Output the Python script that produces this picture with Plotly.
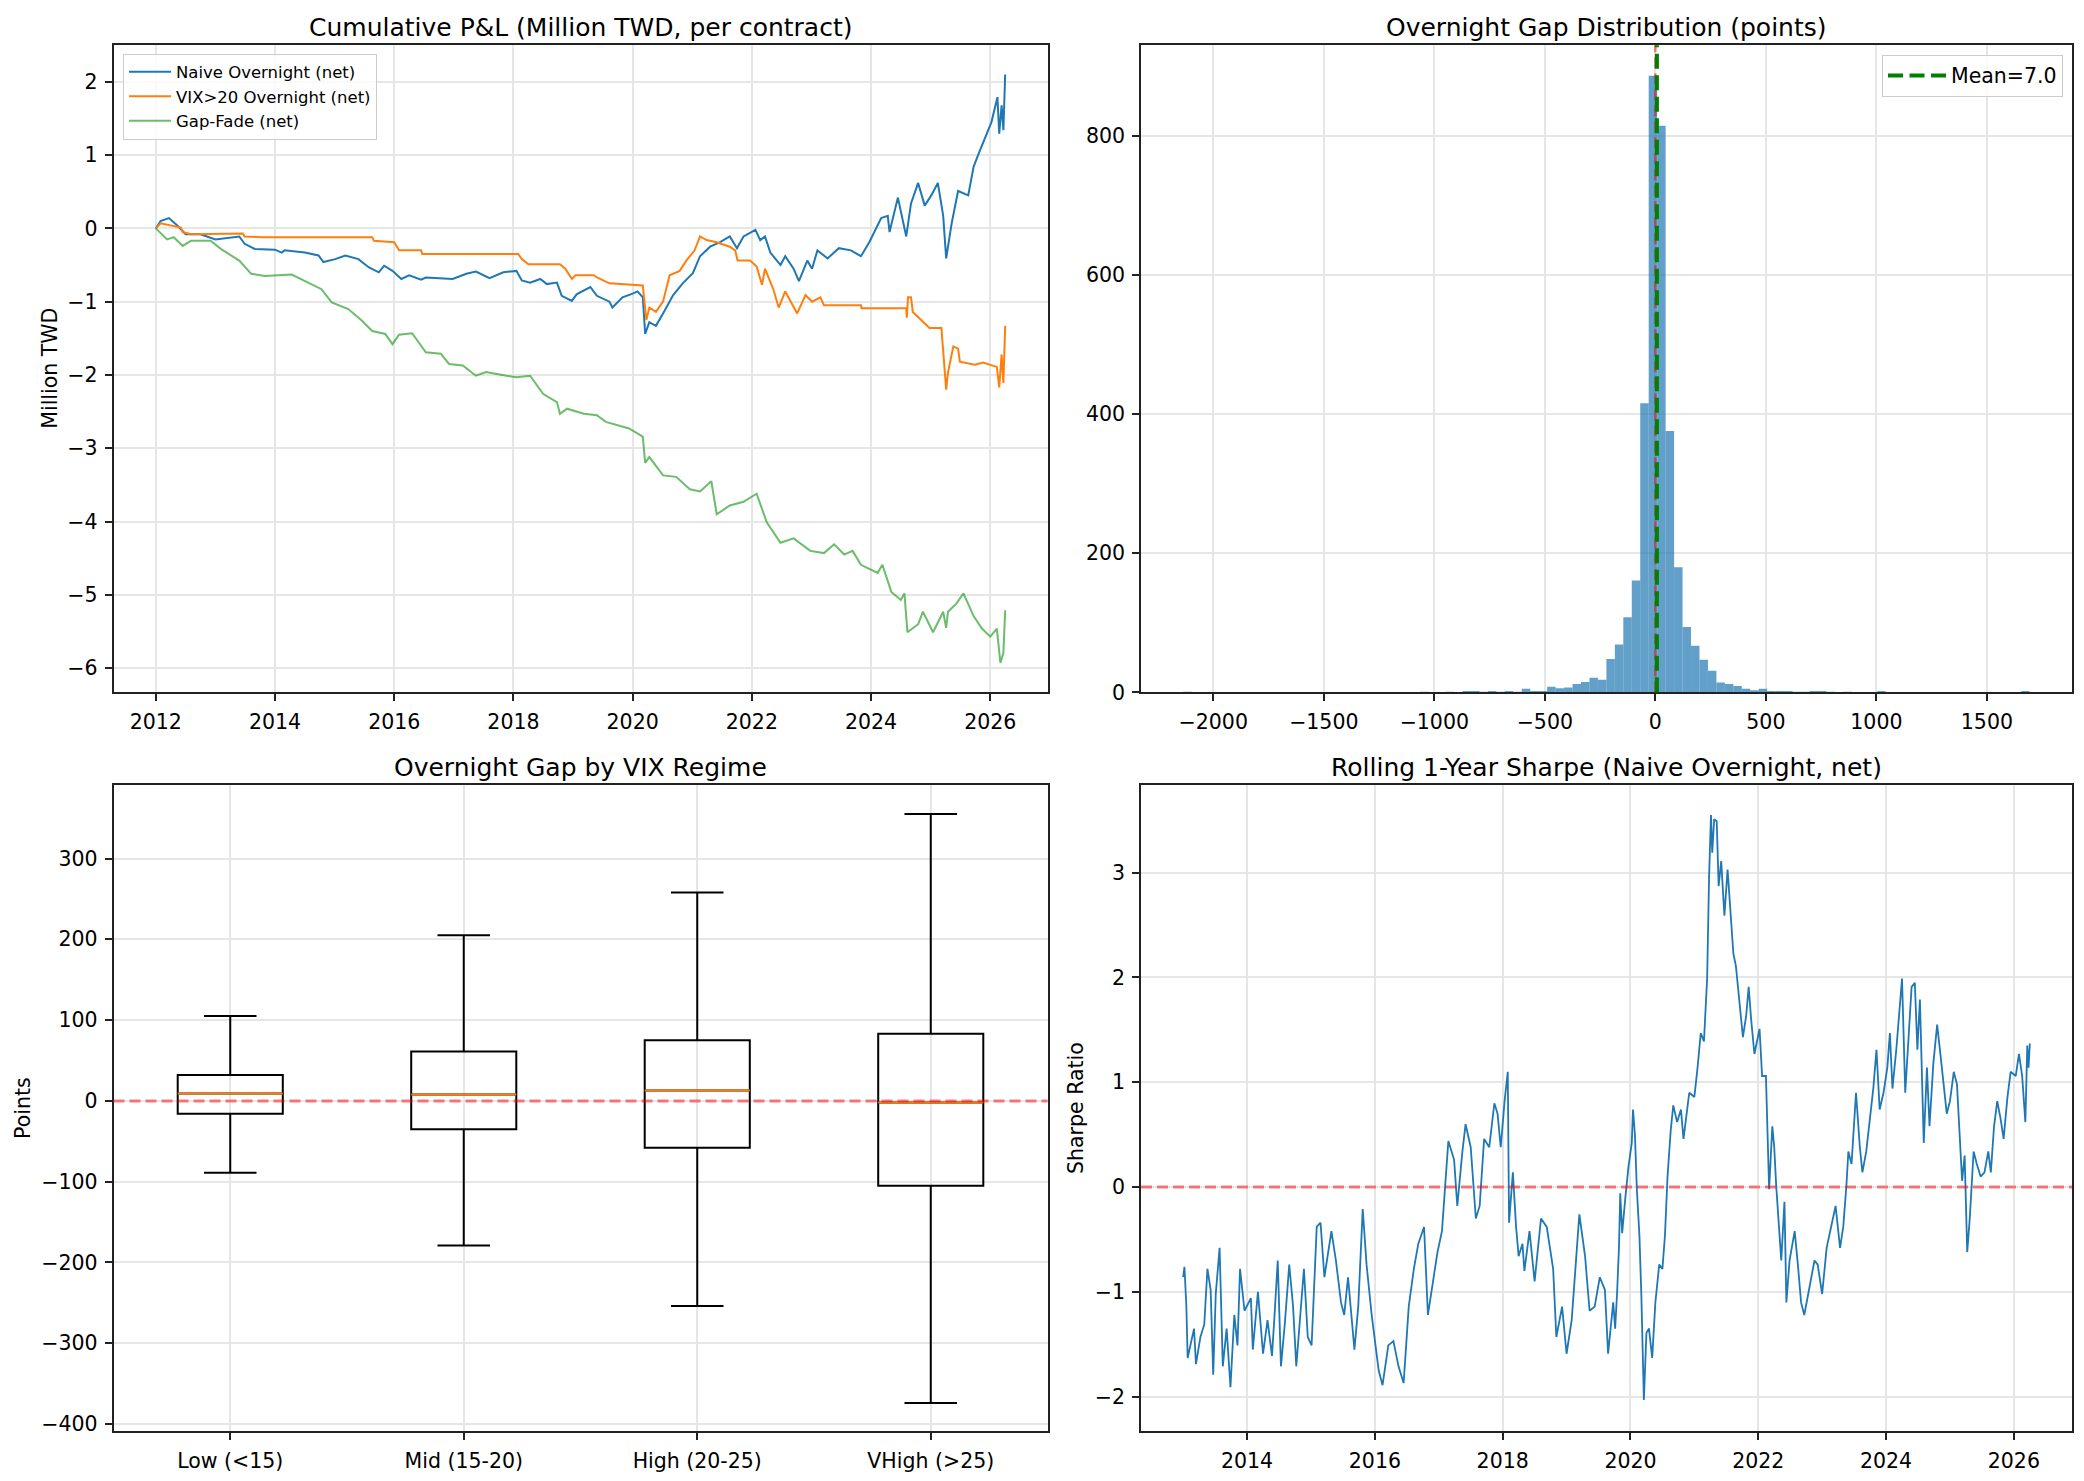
import numpy as np
import plotly.graph_objects as go

# ---------------- data ----------------
# Panel 1: cumulative P&L (million TWD)
naive_t = [2012.00, 2012.08, 2012.22, 2012.36, 2012.50, 2012.75, 2013.00, 2013.21, 2013.40, 2013.49, 2013.66,
           2014.00, 2014.11, 2014.16, 2014.50, 2014.73, 2014.81, 2015.01, 2015.18, 2015.40, 2015.57, 2015.74,
           2015.83, 2015.97, 2016.12, 2016.25, 2016.45, 2016.53, 2016.87, 2016.98, 2017.21, 2017.37, 2017.60,
           2017.83, 2018.05, 2018.14, 2018.28, 2018.45, 2018.56, 2018.73, 2018.81, 2018.98, 2019.06, 2019.29,
           2019.40, 2019.61, 2019.66, 2019.83, 2020.00, 2020.08, 2020.17, 2020.21, 2020.28, 2020.39, 2020.51,
           2020.68, 2020.84, 2021.01, 2021.13, 2021.30, 2021.46, 2021.63, 2021.75, 2021.86, 2022.06, 2022.14,
           2022.22, 2022.31, 2022.48, 2022.56, 2022.70, 2022.79, 2022.93, 2023.01, 2023.10, 2023.27, 2023.46,
           2023.66, 2023.83, 2023.97, 2024.17, 2024.28, 2024.31, 2024.45, 2024.59, 2024.67, 2024.79, 2024.90,
           2025.01, 2025.12, 2025.21, 2025.26, 2025.35, 2025.46, 2025.63, 2025.72, 2025.80, 2025.94, 2026.02,
           2026.12, 2026.15, 2026.19, 2026.22, 2026.25]
naive_v = [0.00, 0.10, 0.14, 0.04, -0.08, -0.08, -0.15, -0.13, -0.11, -0.21, -0.28,
           -0.29, -0.33, -0.30, -0.33, -0.37, -0.46, -0.42, -0.37, -0.42, -0.53, -0.60,
           -0.51, -0.58, -0.69, -0.64, -0.70, -0.67, -0.68, -0.69, -0.62, -0.59, -0.68,
           -0.60, -0.58, -0.71, -0.74, -0.69, -0.76, -0.74, -0.92, -0.99, -0.90, -0.80,
           -0.92, -1.00, -1.08, -0.94, -0.89, -0.86, -0.94, -1.44, -1.28, -1.33, -1.16,
           -0.91, -0.75, -0.61, -0.38, -0.25, -0.19, -0.11, -0.27, -0.11, -0.02, -0.16,
           -0.11, -0.33, -0.50, -0.38, -0.55, -0.72, -0.44, -0.55, -0.30, -0.41, -0.27,
           -0.30, -0.38, -0.19, 0.14, 0.17, -0.05, 0.42, -0.11, 0.34, 0.62, 0.31,
           0.45, 0.62, 0.17, -0.41, 0.06, 0.51, 0.45, 0.84, 1.01, 1.29, 1.45,
           1.79, 1.29, 1.68, 1.34, 2.10]

vix_t = [2012.00, 2012.08, 2012.42, 2012.45, 2012.59, 2013.46, 2013.49, 2013.77, 2015.63, 2015.66, 2016.00,
         2016.08, 2016.45, 2016.47, 2018.08, 2018.14, 2018.25, 2018.78, 2018.87, 2018.98, 2019.04, 2019.35,
         2019.40, 2019.61, 2020.17, 2020.20, 2020.23, 2020.28, 2020.39, 2020.51, 2020.62, 2020.79, 2020.90,
         2021.04, 2021.13, 2021.24, 2021.41, 2021.63, 2021.72, 2021.76, 2021.97, 2022.08, 2022.17, 2022.22,
         2022.36, 2022.45, 2022.56, 2022.76, 2022.90, 2023.01, 2023.15, 2023.21, 2023.83, 2023.84, 2024.59,
         2024.60, 2024.62, 2024.67, 2024.70, 2024.84, 2024.98, 2025.18, 2025.21, 2025.26, 2025.29, 2025.38,
         2025.46, 2025.49, 2025.74, 2025.88, 2026.11, 2026.15, 2026.19, 2026.22, 2026.25]
vix_v = [0.00, 0.07, 0.01, -0.05, -0.08, -0.07, -0.11, -0.12, -0.12, -0.17, -0.19,
         -0.30, -0.30, -0.35, -0.35, -0.42, -0.49, -0.49, -0.55, -0.69, -0.64, -0.64,
         -0.67, -0.75, -0.78, -1.05, -1.25, -1.08, -1.14, -1.00, -0.64, -0.58, -0.44,
         -0.30, -0.11, -0.16, -0.19, -0.25, -0.30, -0.44, -0.44, -0.52, -0.77, -0.55,
         -0.83, -1.08, -0.86, -1.16, -0.91, -1.00, -0.94, -1.05, -1.05, -1.09, -1.09,
         -1.22, -0.94, -0.94, -1.14, -1.25, -1.36, -1.36, -1.67, -2.20, -1.97, -1.61,
         -1.64, -1.82, -1.86, -1.83, -1.89, -2.17, -1.72, -2.11, -1.33]

fade_t = [2012.00, 2012.19, 2012.30, 2012.45, 2012.59, 2012.92, 2013.09, 2013.40, 2013.60, 2013.83, 2014.28,
          2014.56, 2014.78, 2014.95, 2015.23, 2015.46, 2015.63, 2015.85, 2015.97, 2016.08, 2016.30, 2016.53,
          2016.78, 2016.92, 2017.15, 2017.37, 2017.54, 2017.88, 2018.05, 2018.28, 2018.50, 2018.73, 2018.78,
          2018.90, 2019.18, 2019.40, 2019.55, 2019.94, 2020.17, 2020.21, 2020.28, 2020.51, 2020.73, 2020.96,
          2021.13, 2021.32, 2021.41, 2021.63, 2021.86, 2022.08, 2022.25, 2022.48, 2022.70, 2022.98, 2023.21,
          2023.38, 2023.55, 2023.69, 2023.83, 2024.11, 2024.19, 2024.34, 2024.50, 2024.56, 2024.61, 2024.79,
          2024.87, 2025.04, 2025.21, 2025.26, 2025.29, 2025.43, 2025.55, 2025.72, 2025.86, 2026.00, 2026.11,
          2026.17, 2026.22, 2026.25]
fade_v = [0.00, -0.15, -0.12, -0.24, -0.17, -0.17, -0.28, -0.44, -0.62, -0.65, -0.63,
          -0.74, -0.83, -1.01, -1.10, -1.26, -1.40, -1.44, -1.58, -1.45, -1.43, -1.69,
          -1.71, -1.85, -1.87, -2.01, -1.96, -2.01, -2.03, -2.01, -2.26, -2.37, -2.53,
          -2.46, -2.53, -2.55, -2.64, -2.73, -2.84, -3.20, -3.12, -3.37, -3.39, -3.56,
          -3.59, -3.45, -3.90, -3.78, -3.73, -3.62, -4.01, -4.29, -4.23, -4.40, -4.43,
          -4.31, -4.45, -4.40, -4.59, -4.70, -4.59, -4.96, -5.07, -4.98, -5.51, -5.40,
          -5.23, -5.51, -5.23, -5.45, -5.23, -5.12, -4.98, -5.29, -5.46, -5.57, -5.46,
          -5.93, -5.79, -5.21]

year_ticks = [2012, 2014, 2016, 2018, 2020, 2022, 2024, 2026]

# Panel 2: overnight gap histogram (100 bins between min and max gap)
gap_min, gap_max = -2136.0, 1693.0
gap_mean = 7.0
gap_counts = [1, 0, 0, 0, 0, 0, 0, 0, 0, 0,
              0, 0, 0, 0, 0, 0, 0, 0, 0, 0,
              0, 0, 0, 0, 0, 0, 0, 0, 1, 0,
              0, 1, 0, 2, 2, 1, 2, 1, 2, 1,
              5, 2, 2, 8, 6, 7, 12, 15, 21, 18,
              48, 69, 108, 161, 416, 887, 815, 376, 180, 94,
              67, 47, 31, 14, 12, 9, 5, 3, 5, 2,
              2, 2, 1, 1, 2, 2, 1, 0, 1, 0,
              0, 0, 2, 0, 0, 0, 0, 0, 0, 0,
              0, 0, 0, 0, 0, 0, 0, 0, 0, 2]

# Panel 3: overnight gap by VIX regime (box stats, points)
regimes = ["Low (<15)", "Mid (15-20)", "High (20-25)", "VHigh (>25)"]
box_lower = [-89, -179, -254, -374]
box_q1 = [-16, -35, -58, -105]
box_median = [9, 8, 13, -2]
box_q3 = [32, 61, 75, 83]
box_upper = [105, 205, 258, 355]

# Panel 4: rolling 1-year Sharpe (naive overnight, net)
sharpe_t = [2013.00, 2013.02, 2013.05, 2013.07, 2013.17, 2013.20, 2013.27, 2013.33, 2013.38, 2013.43, 2013.47,
            2013.51, 2013.57, 2013.62, 2013.68, 2013.74, 2013.80, 2013.85, 2013.89, 2013.96, 2014.06, 2014.09,
            2014.17, 2014.25, 2014.32, 2014.39, 2014.43, 2014.48, 2014.53, 2014.59, 2014.66, 2014.72, 2014.77,
            2014.89, 2014.95, 2015.01, 2015.09, 2015.15, 2015.21, 2015.32, 2015.39, 2015.47, 2015.52, 2015.58,
            2015.68, 2015.74, 2015.81, 2015.87, 2015.95, 2016.06, 2016.12, 2016.21, 2016.29, 2016.37, 2016.45,
            2016.53, 2016.61, 2016.68, 2016.77, 2016.83, 2016.90, 2016.98, 2017.05, 2017.11, 2017.15, 2017.24,
            2017.29, 2017.37, 2017.42, 2017.50, 2017.58, 2017.64, 2017.71, 2017.79, 2017.87, 2017.92, 2017.97,
            2018.03, 2018.08, 2018.10, 2018.16, 2018.21, 2018.25, 2018.31, 2018.34, 2018.42, 2018.50, 2018.60,
            2018.69, 2018.79, 2018.84, 2018.93, 2019.00, 2019.08, 2019.15, 2019.20, 2019.29, 2019.36, 2019.44,
            2019.52, 2019.60, 2019.65, 2019.73, 2019.76, 2019.79, 2019.82, 2019.84, 2019.87, 2019.92, 2019.97,
            2020.02, 2020.04, 2020.07, 2020.10, 2020.14, 2020.17, 2020.21, 2020.25, 2020.29, 2020.34, 2020.39,
            2020.45, 2020.50, 2020.54, 2020.58, 2020.63, 2020.67, 2020.73, 2020.79, 2020.83, 2020.92, 2021.00,
            2021.05, 2021.10, 2021.15, 2021.20, 2021.23, 2021.26, 2021.28, 2021.31, 2021.35, 2021.38, 2021.42,
            2021.47, 2021.52, 2021.57, 2021.61, 2021.65, 2021.70, 2021.76, 2021.81, 2021.85, 2021.89, 2021.94,
            2022.02, 2022.06, 2022.12, 2022.15, 2022.17, 2022.22, 2022.25, 2022.28, 2022.33, 2022.36, 2022.41,
            2022.44, 2022.49, 2022.57, 2022.62, 2022.67, 2022.72, 2022.80, 2022.88, 2022.93, 2023.00, 2023.07,
            2023.14, 2023.21, 2023.28, 2023.33, 2023.38, 2023.41, 2023.46, 2023.53, 2023.59, 2023.63, 2023.69,
            2023.75, 2023.80, 2023.85, 2023.90, 2023.96, 2024.02, 2024.06, 2024.10, 2024.16, 2024.21, 2024.25,
            2024.30, 2024.35, 2024.40, 2024.45, 2024.49, 2024.53, 2024.59, 2024.64, 2024.68, 2024.74, 2024.80,
            2024.85, 2024.90, 2024.95, 2025.00, 2025.06, 2025.11, 2025.16, 2025.19, 2025.23, 2025.27, 2025.31,
            2025.37, 2025.42, 2025.48, 2025.54, 2025.60, 2025.64, 2025.69, 2025.74, 2025.79, 2025.84, 2025.90,
            2025.95, 2026.03, 2026.08, 2026.13, 2026.18, 2026.21, 2026.23, 2026.25]
sharpe_v = [-0.86, -0.76, -1.14, -1.63, -1.35, -1.69, -1.43, -1.31, -0.78, -0.98, -1.79,
            -1.02, -0.58, -1.71, -1.35, -1.91, -1.22, -1.51, -0.78, -1.18, -1.06, -1.55,
            -1.00, -1.59, -1.27, -1.61, -1.22, -0.70, -1.71, -1.31, -0.74, -1.14, -1.71,
            -0.78, -1.43, -1.51, -0.38, -0.34, -0.86, -0.42, -0.70, -1.10, -1.22, -0.86,
            -1.55, -1.14, -0.21, -0.74, -1.22, -1.75, -1.89, -1.51, -1.47, -1.71, -1.87,
            -1.14, -0.78, -0.54, -0.38, -1.22, -0.94, -0.62, -0.42, 0.10, 0.44, 0.26,
            -0.18, 0.34, 0.60, 0.38, -0.30, -0.18, 0.46, 0.38, 0.80, 0.70, 0.38,
            0.82, 1.10, -0.34, 0.14, -0.38, -0.66, -0.54, -0.80, -0.42, -0.90, -0.30,
            -0.38, -0.78, -1.43, -1.14, -1.59, -1.27, -0.70, -0.26, -0.66, -1.18, -1.14,
            -0.86, -0.98, -1.59, -1.10, -1.35, -1.02, -0.58, -0.06, -0.44, -0.10, 0.20,
            0.42, 0.74, 0.50, -0.02, -0.46, -1.02, -2.03, -1.39, -1.35, -1.63, -1.10,
            -0.74, -0.78, -0.46, 0.10, 0.54, 0.78, 0.62, 0.74, 0.46, 0.90, 0.86,
            1.14, 1.47, 1.39, 1.99, 2.95, 3.55, 3.19, 3.51, 3.49, 2.87, 3.11,
            2.59, 3.03, 2.55, 2.23, 2.11, 1.79, 1.43, 1.63, 1.91, 1.59, 1.27,
            1.51, 1.06, 1.06, 0.46, -0.02, 0.58, 0.38, 0.02, -0.38, -0.70, -0.14,
            -1.10, -0.70, -0.42, -0.74, -1.10, -1.22, -0.94, -0.70, -0.74, -1.02, -0.58,
            -0.38, -0.18, -0.58, -0.38, 0.02, 0.34, 0.22, 0.90, 0.38, 0.14, 0.34,
            0.66, 0.94, 1.31, 0.74, 0.90, 1.14, 1.47, 0.94, 1.31, 1.71, 1.99,
            0.90, 1.47, 1.91, 1.95, 1.31, 1.79, 0.42, 1.14, 0.58, 1.18, 1.55,
            1.27, 0.98, 0.70, 0.82, 1.10, 0.98, 0.38, 0.06, 0.30, -0.62, -0.30,
            0.34, 0.22, 0.10, 0.14, 0.34, 0.14, 0.58, 0.82, 0.66, 0.46, 0.86,
            1.10, 1.06, 1.27, 1.06, 0.62, 1.35, 1.14, 1.37]
sharpe_year_ticks = [2014, 2016, 2018, 2020, 2022, 2024, 2026]

# ---------------- figure ----------------
W, H = 2084, 1481
FONT = "DejaVu Sans"
BLUE, ORANGE, GREEN = "#1f77b4", "#ff7f0e", "rgba(44,160,44,0.7)"
RED_A = "rgba(255,0,0,0.5)"

XL = [113.5 / W, 1047.5 / W]
XR = [1141 / W, 2072 / W]
YT = [1 - 698 / H, 1 - 45.5 / H]
YB = [1 - 1443 / H, 1 - 791 / H]

fig = go.Figure()

# Panel 1
for t, v, name, col in [(naive_t, naive_v, "Naive Overnight (net)", BLUE),
                        (vix_t, vix_v, "VIX>20 Overnight (net)", ORANGE),
                        (fade_t, fade_v, "Gap-Fade (net)", GREEN)]:
    fig.add_trace(go.Scatter(x=t, y=v, mode="lines", name=name, line=dict(color=col, width=2),
                             xaxis="x", yaxis="y", legend="legend"))

# Panel 2
edges = np.linspace(gap_min, gap_max, len(gap_counts) + 1)
centers = (edges[:-1] + edges[1:]) / 2
bw = edges[1] - edges[0]
fig.add_trace(go.Bar(x=centers, y=gap_counts, width=bw, marker=dict(color="rgba(31,119,180,0.7)", line=dict(width=0)),
                     xaxis="x2", yaxis="y2", showlegend=False))
fig.add_shape(type="line", xref="x2", yref="y2 domain", x0=0, x1=0, y0=0, y1=1,
              line=dict(color=RED_A, width=2.5, dash="11px,5px"))
fig.add_shape(type="line", xref="x2", yref="y2 domain", x0=gap_mean, x1=gap_mean, y0=0, y1=1,
              line=dict(color="#008000", width=4, dash="15px,6.5px"),
              showlegend=True, name=f"Mean={gap_mean:.1f}", legend="legend2")

# Panel 3
pos = [1, 2, 3, 4]
fig.add_trace(go.Box(x=pos, q1=box_q1, median=box_median, q3=box_q3, lowerfence=box_lower, upperfence=box_upper,
                     width=0.45, whiskerwidth=0.5, boxpoints=False, fillcolor="rgba(0,0,0,0)",
                     line=dict(color="black", width=2), xaxis="x3", yaxis="y3", showlegend=False,
                     hoverinfo="skip"))
mx, my = [], []
for p, m in zip(pos, box_median):
    mx += [p - 0.225, p + 0.225, None]
    my += [m, m, None]
fig.add_trace(go.Scatter(x=mx, y=my, mode="lines", line=dict(color=ORANGE, width=2),
                         xaxis="x3", yaxis="y3", showlegend=False))
fig.add_shape(type="line", xref="x3 domain", yref="y3", x0=0, x1=1, y0=0, y1=0,
              line=dict(color=RED_A, width=3, dash="11px,5px"))

# Panel 4
fig.add_trace(go.Scatter(x=sharpe_t, y=sharpe_v, mode="lines", line=dict(color=BLUE, width=1.8),
                         xaxis="x4", yaxis="y4", showlegend=False))
fig.add_shape(type="line", xref="x4 domain", yref="y4", x0=0, x1=1, y0=0, y1=0,
              line=dict(color=RED_A, width=3, dash="11px,5px"))

ax = dict(showline=True, linecolor="#222222", linewidth=1.6, mirror=True,
          ticks="outside", ticklen=7, tickwidth=1.6, tickcolor="#222222",
          showgrid=True, gridcolor="#e6e6e6", gridwidth=1.6, zeroline=False,
          tickfont=dict(family=FONT, size=20.5, color="black"), ticklabelstandoff=3)

fig.update_layout(
    width=W, height=H, margin=dict(l=0, r=0, t=0, b=0),
    paper_bgcolor="white", plot_bgcolor="white",
    font=dict(family=FONT, color="black"),
    xaxis=dict(ax, domain=XL, anchor="y", range=[2011.29, 2026.96],
               tickvals=year_ticks, ticktext=[str(y) for y in year_ticks]),
    yaxis=dict(ax, domain=YT, anchor="x", range=[-6.33, 2.5], dtick=1),
    xaxis2=dict(ax, domain=XR, anchor="y2", range=[-2327, 1885], dtick=500),
    yaxis2=dict(ax, domain=YT, anchor="x2", range=[0, 931], dtick=200),
    xaxis3=dict(ax, domain=XL, anchor="y3", range=[0.5, 4.5], tickvals=pos, ticktext=regimes),
    yaxis3=dict(ax, domain=YB, anchor="x3", range=[-409, 391.5], dtick=100),
    xaxis4=dict(ax, domain=XR, anchor="y4", range=[2012.34, 2026.91],
                tickvals=sharpe_year_ticks, ticktext=[str(y) for y in sharpe_year_ticks]),
    yaxis4=dict(ax, domain=YB, anchor="x4", range=[-2.33, 3.84], dtick=1),
    legend=dict(x=123 / W, y=1 - 54 / H, xanchor="left", yanchor="top", itemwidth=42,
                bgcolor="rgba(255,255,255,0.8)", bordercolor="#cccccc", borderwidth=1,
                font=dict(family=FONT, size=16.5, color="black"), tracegroupgap=0),
    legend2=dict(x=2063 / W, y=1 - 55 / H, xanchor="right", yanchor="top", itemwidth=58,
                 bgcolor="rgba(255,255,255,0.8)", bordercolor="#cccccc", borderwidth=1,
                 font=dict(family=FONT, size=20.5, color="black")),
    showlegend=True,
)

titles = [("Cumulative P&L (Million TWD, per contract)", sum(XL) / 2, 1 - 44 / H),
          ("Overnight Gap Distribution (points)", sum(XR) / 2, 1 - 44 / H),
          ("Overnight Gap by VIX Regime", sum(XL) / 2, 1 - 790 / H),
          ("Rolling 1-Year Sharpe (Naive Overnight, net)", sum(XR) / 2, 1 - 790 / H)]
for txt, x, y in titles:
    fig.add_annotation(text=txt, x=x, y=y, xref="paper", yref="paper", xanchor="center", yanchor="bottom",
                       showarrow=False, font=dict(family=FONT, size=25, color="black"))

ylabels = [("Million TWD", 50 / W, sum(YT) / 2),
           ("Points", 23 / W, sum(YB) / 2),
           ("Sharpe Ratio", 1076 / W, sum(YB) / 2)]
for txt, x, y in ylabels:
    fig.add_annotation(text=txt, x=x, y=y, xref="paper", yref="paper", xanchor="center", yanchor="middle",
                       textangle=-90, showarrow=False, font=dict(family=FONT, size=20.5, color="black"))

fig.write_html("out.html")
